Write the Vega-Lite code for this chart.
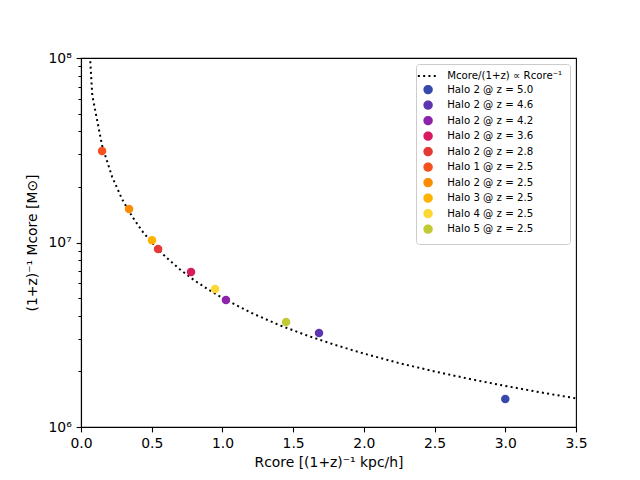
{
  "$schema": "https://vega.github.io/schema/vega-lite/v6.json",
  "width": 495,
  "height": 369,
  "autosize": "none",
  "padding": {"left": 81, "top": 58, "right": 64, "bottom": 53},
  "background": "white",
  "datasets": {
    "fit": [
      {"R": 0.01, "M": 500000000, "series": "Mcore/(1+z) ∝ Rcore⁻¹"},
      {"R": 0.08, "M": 62500000, "series": "Mcore/(1+z) ∝ Rcore⁻¹"},
      {"R": 0.15, "M": 33300000, "series": "Mcore/(1+z) ∝ Rcore⁻¹"},
      {"R": 0.22, "M": 22700000, "series": "Mcore/(1+z) ∝ Rcore⁻¹"},
      {"R": 0.29, "M": 17200000, "series": "Mcore/(1+z) ∝ Rcore⁻¹"},
      {"R": 0.36, "M": 13900000, "series": "Mcore/(1+z) ∝ Rcore⁻¹"},
      {"R": 0.43, "M": 11600000, "series": "Mcore/(1+z) ∝ Rcore⁻¹"},
      {"R": 0.5, "M": 10000000, "series": "Mcore/(1+z) ∝ Rcore⁻¹"},
      {"R": 0.6, "M": 8330000, "series": "Mcore/(1+z) ∝ Rcore⁻¹"},
      {"R": 0.7, "M": 7140000, "series": "Mcore/(1+z) ∝ Rcore⁻¹"},
      {"R": 0.8, "M": 6250000, "series": "Mcore/(1+z) ∝ Rcore⁻¹"},
      {"R": 0.9, "M": 5560000, "series": "Mcore/(1+z) ∝ Rcore⁻¹"},
      {"R": 1.0, "M": 5000000, "series": "Mcore/(1+z) ∝ Rcore⁻¹"},
      {"R": 1.2, "M": 4170000, "series": "Mcore/(1+z) ∝ Rcore⁻¹"},
      {"R": 1.4, "M": 3570000, "series": "Mcore/(1+z) ∝ Rcore⁻¹"},
      {"R": 1.6, "M": 3130000, "series": "Mcore/(1+z) ∝ Rcore⁻¹"},
      {"R": 1.8, "M": 2780000, "series": "Mcore/(1+z) ∝ Rcore⁻¹"},
      {"R": 2.0, "M": 2500000, "series": "Mcore/(1+z) ∝ Rcore⁻¹"},
      {"R": 2.25, "M": 2220000, "series": "Mcore/(1+z) ∝ Rcore⁻¹"},
      {"R": 2.5, "M": 2000000, "series": "Mcore/(1+z) ∝ Rcore⁻¹"},
      {"R": 2.75, "M": 1820000, "series": "Mcore/(1+z) ∝ Rcore⁻¹"},
      {"R": 3.0, "M": 1670000, "series": "Mcore/(1+z) ∝ Rcore⁻¹"},
      {"R": 3.25, "M": 1540000, "series": "Mcore/(1+z) ∝ Rcore⁻¹"},
      {"R": 3.5, "M": 1430000, "series": "Mcore/(1+z) ∝ Rcore⁻¹"}
    ],
    "halos": [
      {"R": 3.0, "M": 1420000, "series": "Halo 2 @ z = 5.0"},
      {"R": 1.683, "M": 3230000, "series": "Halo 2 @ z = 4.6"},
      {"R": 1.025, "M": 4880000, "series": "Halo 2 @ z = 4.2"},
      {"R": 0.778, "M": 6920000, "series": "Halo 2 @ z = 3.6"},
      {"R": 0.545, "M": 9220000, "series": "Halo 2 @ z = 2.8"},
      {"R": 0.149, "M": 31300000, "series": "Halo 1 @ z = 2.5"},
      {"R": 0.34, "M": 15200000, "series": "Halo 2 @ z = 2.5"},
      {"R": 0.502, "M": 10300000, "series": "Halo 3 @ z = 2.5"},
      {"R": 0.948, "M": 5600000, "series": "Halo 4 @ z = 2.5"},
      {"R": 1.45, "M": 3710000, "series": "Halo 5 @ z = 2.5"}
    ]
  },
  "encoding": {
    "x": {
      "field": "R",
      "type": "quantitative",
      "scale": {"domain": [0, 3.5], "nice": false, "zero": false},
      "axis": {
        "values": [0, 0.5, 1, 1.5, 2, 2.5, 3, 3.5],
        "format": ".1f",
        "labelFlush": false,
        "title": "Rcore [(1+z)⁻¹ kpc/h]",
        "titlePadding": 5
      }
    },
    "color": {
      "field": "series",
      "type": "nominal",
      "scale": {
        "domain": ["Mcore/(1+z) ∝ Rcore⁻¹", "Halo 2 @ z = 5.0", "Halo 2 @ z = 4.6", "Halo 2 @ z = 4.2", "Halo 2 @ z = 3.6", "Halo 2 @ z = 2.8",
                   "Halo 1 @ z = 2.5", "Halo 2 @ z = 2.5", "Halo 3 @ z = 2.5", "Halo 4 @ z = 2.5", "Halo 5 @ z = 2.5"],
        "range": ["#000000", "#3949AB", "#5E35B1", "#8E24AA", "#D81B60", "#E53935", "#F4511E", "#FB8C00", "#FFB300", "#FDD835", "#C0CA33"]
      },
      "legend": {
        "orient": "top-right",
        "offset": 6,
        "title": null,
        "padding": 7,
        "strokeColor": "#cccccc",
        "fillColor": "white",
        "cornerRadius": 3,
        "labelFont": "DejaVu Sans",
        "labelFontSize": 10.2,
        "labelColor": "black",
        "labelOffset": 14,
        "rowPadding": -0.5,
        "symbolSize": 55,
        "symbolType": "circle",
        "encode": {
          "symbols": {
            "update": {
              "shape": {"signal": "datum.value === 'Mcore/(1+z) ∝ Rcore⁻¹' ? 'stroke' : 'circle'"},
              "size": {"signal": "datum.value === 'Mcore/(1+z) ∝ Rcore⁻¹' ? 420 : 55"},
              "fill": {"signal": "datum.value === 'Mcore/(1+z) ∝ Rcore⁻¹' ? 'transparent' : scale('color', datum.value)"},
              "stroke": {"signal": "datum.value === 'Mcore/(1+z) ∝ Rcore⁻¹' ? 'black' : 'transparent'"},
              "strokeDash": {"signal": "datum.value === 'Mcore/(1+z) ∝ Rcore⁻¹' ? [2, 3.3] : [1, 0]"},
              "strokeWidth": {"value": 2},
              "opacity": {"value": 1}
            }
          }
        }
      }
    }
  },
  "layer": [
    {
      "data": {"name": "fit"},
      "mark": {"type": "line", "clip": true, "strokeDash": [2, 3.3], "strokeWidth": 2, "strokeCap": "butt"},
      "encoding": {
        "y": {
          "field": "M",
          "type": "quantitative",
          "scale": {"type": "log", "domain": [1000000, 100000000], "nice": false},
          "axis": {
            "values": [1000000, 10000000, 100000000],
            "labelExpr": "datum.value === 1000000 ? '10⁶' : datum.value === 10000000 ? '10⁷' : '10⁸'",
            "title": "(1+z)⁻¹ Mcore [M⊙]",
            "titlePadding": 8
          }
        }
      }
    },
    {
      "data": {"name": "halos"},
      "mark": {"type": "point", "filled": true, "shape": "circle", "size": 72, "opacity": 1},
      "encoding": {
        "y": {
          "field": "M",
          "type": "quantitative",
          "scale": {"type": "log", "domain": [1000000, 100000000], "nice": false},
          "axis": {
            "orient": "left",
            "values": [2000000, 3000000, 4000000, 5000000, 6000000, 7000000, 8000000, 9000000,
                       20000000, 30000000, 40000000, 50000000, 60000000, 70000000, 80000000, 90000000],
            "labels": false,
            "domain": false,
            "title": null,
            "tickSize": 3,
            "tickWidth": 1
          }
        }
      }
    }
  ],
  "resolve": {"scale": {"y": "independent"}, "axis": {"y": "independent"}},
  "config": {
    "font": "DejaVu Sans",
    "view": {"stroke": "black", "strokeWidth": 1.1},
    "axis": {
      "grid": false,
      "labelFont": "DejaVu Sans",
      "labelFontSize": 13.9,
      "labelColor": "black",
      "labelPadding": 4.9,
      "titleFont": "DejaVu Sans",
      "titleFontSize": 13.9,
      "titleFontWeight": "normal",
      "titleColor": "black",
      "tickColor": "black",
      "tickSize": 4.9,
      "tickWidth": 1.1,
      "domainColor": "black",
      "domainWidth": 1.1
    }
  }
}
